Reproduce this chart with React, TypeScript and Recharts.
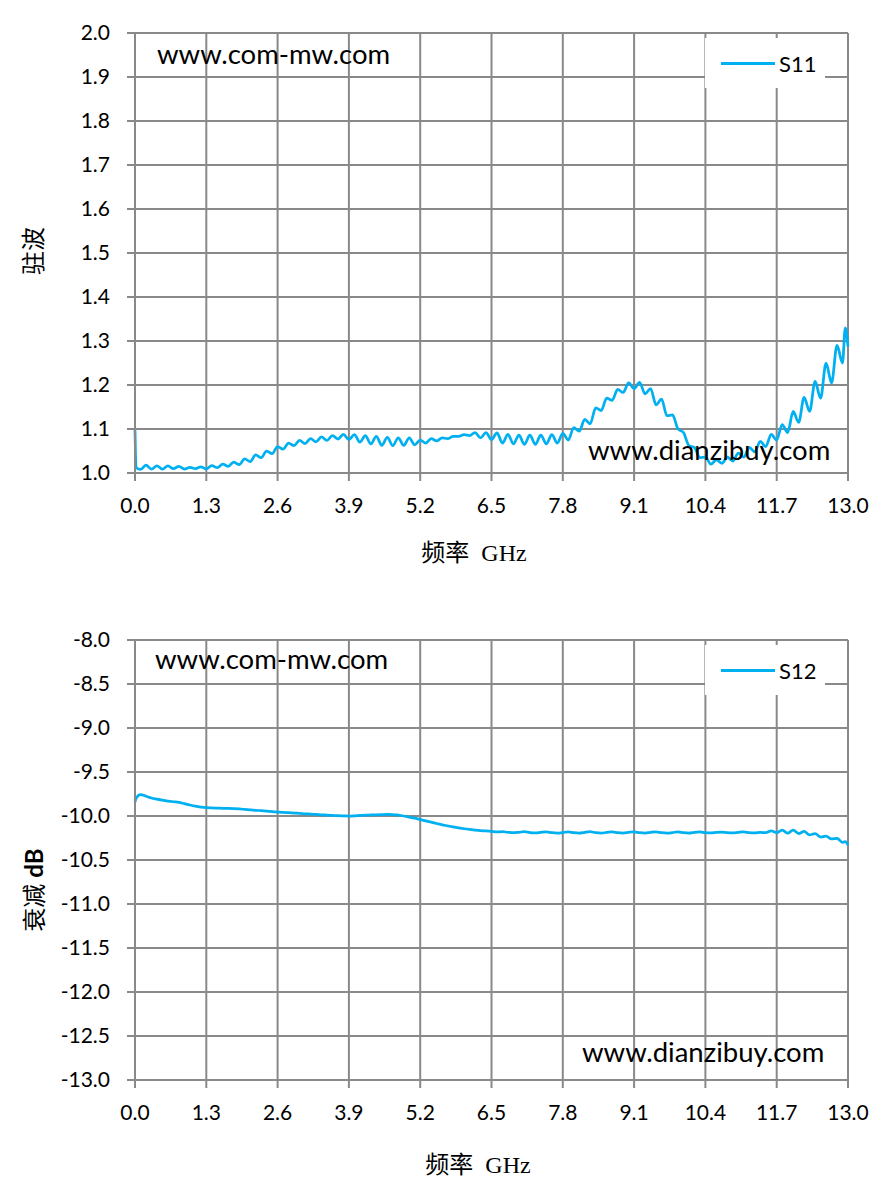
import React from "react";
import { LineChart, Line, XAxis, YAxis, CartesianGrid } from "recharts";

// sweep points in GHz
const FREQ = [
  0, 0.02, 0.1, 0.2, 0.3, 0.4, 0.5, 0.6, 0.7, 0.8, 0.9,
  1.0, 1.1, 1.2, 1.3, 1.4, 1.5, 1.6, 1.7, 1.8, 1.9,
  2.0, 2.1, 2.2, 2.3, 2.4, 2.5, 2.6, 2.7, 2.8, 2.9,
  3.0, 3.1, 3.2, 3.3, 3.4, 3.5, 3.6, 3.7, 3.8, 3.9,
  4.0, 4.1, 4.2, 4.3, 4.4, 4.5, 4.6, 4.7, 4.8, 4.9,
  5.0, 5.1, 5.2, 5.3, 5.4, 5.5, 5.6, 5.7, 5.8, 5.9,
  6.0, 6.1, 6.2, 6.3, 6.4, 6.5, 6.6, 6.7, 6.8, 6.9,
  7.0, 7.1, 7.2, 7.3, 7.4, 7.5, 7.6, 7.7, 7.8, 7.9,
  8.0, 8.1, 8.2, 8.3, 8.4, 8.5, 8.6, 8.7, 8.8, 8.9,
  9.0, 9.1, 9.2, 9.3, 9.4, 9.5, 9.6, 9.7, 9.8, 9.9,
  10.0, 10.1, 10.2, 10.3, 10.4, 10.5, 10.6, 10.7, 10.8, 10.9,
  11.0, 11.1, 11.2, 11.3, 11.4, 11.5, 11.6, 11.7, 11.8, 11.9,
  12.0, 12.1, 12.2, 12.3, 12.4, 12.5, 12.6, 12.7, 12.8, 12.9, 12.95,
  13.0,
];

// VSWR
const S11 = [
  1.097, 1.012, 1.008, 1.018, 1.009, 1.016, 1.009, 1.016, 1.010, 1.015, 1.009,
  1.013, 1.010, 1.014, 1.009, 1.017, 1.012, 1.020, 1.015, 1.025, 1.019,
  1.032, 1.026, 1.041, 1.035, 1.050, 1.044, 1.060, 1.054, 1.068, 1.062,
  1.074, 1.067, 1.078, 1.071, 1.082, 1.074, 1.085, 1.077, 1.088, 1.076,
  1.087, 1.070, 1.085, 1.066, 1.083, 1.063, 1.081, 1.062, 1.080, 1.063,
  1.080, 1.064, 1.075, 1.068, 1.078, 1.073, 1.080, 1.078, 1.083, 1.083,
  1.087, 1.085, 1.092, 1.080, 1.092, 1.076, 1.091, 1.068, 1.088, 1.066,
  1.086, 1.065, 1.086, 1.065, 1.086, 1.066, 1.087, 1.068, 1.090, 1.075,
  1.103, 1.095, 1.122, 1.112, 1.148, 1.142, 1.170, 1.165, 1.190, 1.183,
  1.205, 1.192, 1.206, 1.180, 1.192, 1.155, 1.168, 1.130, 1.132, 1.100,
  1.092, 1.062, 1.058, 1.035, 1.036, 1.020, 1.030, 1.022, 1.036, 1.027,
  1.045, 1.036, 1.058, 1.048, 1.072, 1.060, 1.088, 1.075, 1.110, 1.092,
  1.140, 1.115, 1.172, 1.140, 1.208, 1.170, 1.250, 1.205, 1.290, 1.250, 1.330,
  1.287,
];

// attenuation, dB
const S12 = [
  -9.840, -9.800, -9.757, -9.775, -9.795, -9.808, -9.820, -9.830, -9.838, -9.845, -9.860,
  -9.875, -9.888, -9.898, -9.905, -9.908, -9.910, -9.912, -9.913, -9.916, -9.920,
  -9.925, -9.930, -9.935, -9.940, -9.945, -9.950, -9.955, -9.960, -9.963, -9.967,
  -9.970, -9.975, -9.978, -9.982, -9.986, -9.990, -9.993, -9.996, -9.998, -10.000,
  -9.998, -9.993, -9.990, -9.988, -9.986, -9.984, -9.982, -9.983, -9.990, -10.000,
  -10.012, -10.025, -10.040, -10.055, -10.070, -10.085, -10.100, -10.112, -10.124, -10.135,
  -10.145, -10.153, -10.160, -10.166, -10.170, -10.175, -10.180, -10.178, -10.185, -10.190,
  -10.185, -10.178, -10.188, -10.193, -10.185, -10.180, -10.190, -10.195, -10.188, -10.180,
  -10.190, -10.195, -10.185, -10.178, -10.190, -10.195, -10.187, -10.180, -10.190, -10.195,
  -10.186, -10.180, -10.190, -10.195, -10.186, -10.180, -10.190, -10.195, -10.188, -10.180,
  -10.190, -10.195, -10.185, -10.180, -10.190, -10.192, -10.185, -10.182, -10.190, -10.192,
  -10.185, -10.180, -10.190, -10.192, -10.186, -10.190, -10.170, -10.190, -10.160, -10.195,
  -10.160, -10.200, -10.175, -10.215, -10.200, -10.240, -10.230, -10.260, -10.255, -10.300, -10.290,
  -10.330,
];

const X_TICKS = [0, 1.3, 2.6, 3.9, 5.2, 6.5, 7.8, 9.1, 10.4, 11.7, 13];
const S11_TICKS = [1.0, 1.1, 1.2, 1.3, 1.4, 1.5, 1.6, 1.7, 1.8, 1.9, 2.0];
const S12_TICKS = [-13, -12.5, -12, -11.5, -11, -10.5, -10, -9.5, -9, -8.5, -8];

const GRID = "#898989";
const BLUE = "#00B0F0";
const SANS = "Lato, 'Noto Sans', sans-serif";
const SERIF = "'Liberation Serif', 'Noto Sans CJK SC', serif";
const tickStyle = { fontFamily: SANS, fontSize: 21, fill: "#000" };

function Panel({
  values,
  name,
  yTicks,
  top,
  height,
  marginTop,
}: {
  values: number[];
  name: string;
  yTicks: number[];
  top: number;
  height: number;
  marginTop: number;
}) {
  const data = FREQ.map((f, i) => ({ f, v: values[i] }));
  const plotBottom = marginTop + 440;
  return (
    <div style={{ position: "absolute", left: 0, top }}>
      <LineChart
        width={870}
        height={height}
        data={data}
        margin={{ top: marginTop, right: 30, left: 0, bottom: height - plotBottom - 40 }}
      >
        <CartesianGrid stroke={GRID} strokeWidth={2} />
        <XAxis
          dataKey="f"
          type="number"
          domain={[0, 13]}
          ticks={X_TICKS}
          interval={0}
          height={40}
          tickFormatter={(t: number) => t.toFixed(1)}
          tick={tickStyle}
          tickSize={8}
          tickMargin={17}
          axisLine={{ stroke: GRID, strokeWidth: 2 }}
          tickLine={{ stroke: GRID, strokeWidth: 2 }}
        />
        <YAxis
          type="number"
          domain={[yTicks[0], yTicks[yTicks.length - 1]]}
          ticks={yTicks}
          interval={0}
          width={127}
          tickFormatter={(t: number) => t.toFixed(1)}
          tick={tickStyle}
          tickSize={8}
          tickMargin={17}
          axisLine={{ stroke: GRID, strokeWidth: 2 }}
          tickLine={{ stroke: GRID, strokeWidth: 2 }}
        />
        <Line
          dataKey="v"
          name={name}
          type="monotone"
          stroke={BLUE}
          strokeWidth={2.75}
          dot={false}
          isAnimationActive={false}
        />
      </LineChart>
      {/* legend box */}
      <div
        style={{
          position: "absolute",
          left: 697,
          top: marginTop + 5,
          width: 120,
          height: 50,
          background: "#fff",
          display: "flex",
          alignItems: "center",
        }}
      >
        <span style={{ display: "inline-block", width: 54, height: 3, background: BLUE, marginLeft: 16 }} />
        <span style={{ fontFamily: SANS, fontSize: 22, marginLeft: 4 }}>{name}</span>
      </div>
    </div>
  );
}

const abs = (left: number, top: number, extra: React.CSSProperties = {}): React.CSSProperties => ({
  position: "absolute",
  left: left - 8,
  top: top - 8,
  whiteSpace: "nowrap",
  lineHeight: 1,
  ...extra,
});

export default function App() {
  return (
    <div style={{ position: "relative", width: 878, height: 1178 }}>
      <Panel values={S11} name="S11" yTicks={S11_TICKS} top={0} height={580} marginTop={25} />
      <Panel values={S12} name="S12" yTicks={S12_TICKS} top={592} height={590} marginTop={40} />

      <div style={abs(157, 40, { fontFamily: SANS, fontSize: 27.5 })}>www.com-mw.com</div>
      <div style={abs(588, 436, { fontFamily: SANS, fontSize: 27.5 })}>www.dianzibuy.com</div>
      <div style={abs(155, 645, { fontFamily: SANS, fontSize: 27.5 })}>www.com-mw.com</div>
      <div style={abs(582, 1038, { fontFamily: SANS, fontSize: 27.5 })}>www.dianzibuy.com</div>

      <div
        style={abs(474, 553, {
          fontFamily: SERIF,
          fontSize: 24,
          wordSpacing: 6,
          transform: "translate(-50%, -50%)",
        })}
      >
        频率 GHz
      </div>
      <div
        style={abs(478, 1165, {
          fontFamily: SERIF,
          fontSize: 24,
          wordSpacing: 6,
          transform: "translate(-50%, -50%)",
        })}
      >
        频率 GHz
      </div>
      <div
        style={abs(34, 251, {
          fontFamily: SERIF,
          fontSize: 24,
          transform: "translate(-50%, -50%) rotate(-90deg)",
        })}
      >
        驻波
      </div>
      <div
        style={abs(34, 890, {
          fontFamily: SERIF,
          fontSize: 24,
          transform: "translate(-50%, -50%) rotate(-90deg)",
        })}
      >
        衰减 <b style={{ fontFamily: SANS }}>dB</b>
      </div>
    </div>
  );
}
